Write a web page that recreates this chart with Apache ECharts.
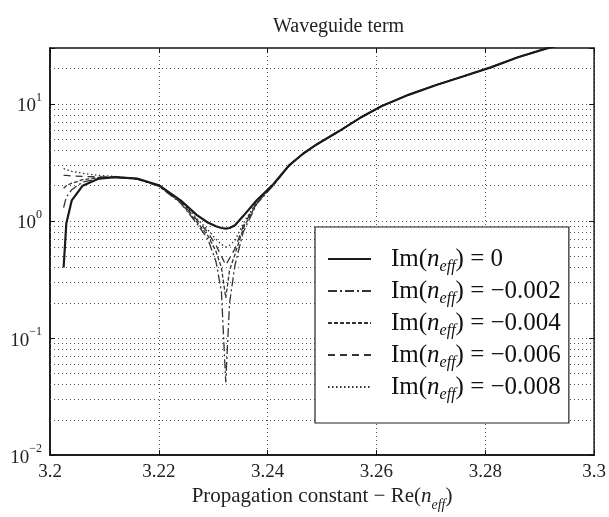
<!DOCTYPE html>
<html>
<head>
<meta charset="utf-8">
<script src="https://cdn.jsdelivr.net/npm/echarts@6/dist/echarts.min.js"></script>
<style>html,body{margin:0;padding:0;background:#fff;}#c{width:609px;height:517px;}</style>
</head>
<body>
<div id="c"></div>
<script>
// ---- data ----
const xValues = [3.2025, 3.203, 3.204, 3.206, 3.209, 3.212, 3.216, 3.220, 3.224, 3.227, 3.229, 3.2305, 3.2315, 3.2323, 3.233, 3.234, 3.2355, 3.238, 3.241, 3.244, 3.2465, 3.249, 3.253, 3.257, 3.261, 3.266, 3.271, 3.276, 3.281, 3.286, 3.291, 3.296, 3.3];
const im0    = [0.40, 0.95, 1.50, 2.00, 2.30, 2.37, 2.30, 2.02, 1.50, 1.12, 0.97, 0.90, 0.87, 0.86, 0.87, 0.92, 1.10, 1.50, 2.05, 3.0, 3.75, 4.5, 5.8, 7.6, 9.6, 12.0, 14.5, 17.2, 20.5, 25.0, 29.5, 34.0, 38.0];
const im002  = [1.30, 1.60, 1.85, 2.15, 2.30, 2.35, 2.28, 1.98, 1.42, 0.95, 0.70, 0.45, 0.25, 0.042, 0.20, 0.42, 0.80, 1.40, 2.00, 3.0, 3.75, 4.5, 5.8, 7.6, 9.6, 12.0, 14.5, 17.2, 20.5, 25.0, 29.5, 34.0, 38.0];
const im004  = [1.90, 2.00, 2.10, 2.25, 2.35, 2.37, 2.29, 1.99, 1.44, 0.98, 0.75, 0.55, 0.40, 0.22, 0.38, 0.52, 0.86, 1.42, 2.02, 3.0, 3.75, 4.5, 5.8, 7.6, 9.6, 12.0, 14.5, 17.2, 20.5, 25.0, 29.5, 34.0, 38.0];
const im006  = [2.45, 2.45, 2.42, 2.40, 2.38, 2.37, 2.29, 2.00, 1.46, 1.02, 0.80, 0.62, 0.50, 0.42, 0.48, 0.58, 0.90, 1.44, 2.03, 3.0, 3.75, 4.5, 5.8, 7.6, 9.6, 12.0, 14.5, 17.2, 20.5, 25.0, 29.5, 34.0, 38.0];
const im008  = [2.80, 2.75, 2.65, 2.55, 2.45, 2.40, 2.30, 2.01, 1.48, 1.05, 0.84, 0.70, 0.63, 0.60, 0.62, 0.68, 0.95, 1.46, 2.04, 3.0, 3.75, 4.5, 5.8, 7.6, 9.6, 12.0, 14.5, 17.2, 20.5, 25.0, 29.5, 34.0, 38.0];
const imLabels = ['0', '\u22120.002', '\u22120.004', '\u22120.006', '\u22120.008'];
const xTickLabels = ['3.2', '3.22', '3.24', '3.26', '3.28', '3.3'];
const yMinorGrid = [0.02,0.03,0.04,0.05,0.06,0.07,0.08,0.09, 0.2,0.3,0.4,0.5,0.6,0.7,0.8,0.9, 2,3,4,5,6,7,8,9, 20];

const FONT = 'Liberation Serif';
const seriesValues = [im0, im002, im004, im006, im008];
const names = imLabels.map(v => 'Im(neff) = ' + v);
const styles = [
  {type: 'solid', width: 2.2, color: '#1a1a1a'},
  {type: [9, 3, 2, 3], width: 1.3, color: '#333'},
  {type: [4, 2], width: 1.3, color: '#333'},
  {type: [7, 5], width: 1.3, color: '#333'},
  {type: [1.5, 2.5], width: 1.3, color: '#333'}
];
const gridDot = {type: [1, 3], color: '#555', width: 1};

const series = seriesValues.map((vals, i) => ({
  name: names[i],
  type: 'line',
  data: xValues.map((x, k) => [x, vals[k]]),
  symbol: 'none',
  showSymbol: false,
  lineStyle: styles[i],
  itemStyle: {color: styles[i].color},
  z: 10 - i,
  animation: false
}));
series.push({
  name: 'minorGrid',
  type: 'line',
  data: [],
  silent: true,
  animation: false,
  markLine: {
    silent: true,
    symbol: 'none',
    label: {show: false},
    lineStyle: gridDot,
    animation: false,
    data: yMinorGrid.map(v => ({yAxis: v}))
  }
});

const LFS = 25;
const legendRich = {
  r: {fontFamily: FONT, fontSize: LFS, lineHeight: 24, verticalAlign: 'top', color: '#111'},
  i: {fontFamily: FONT, fontSize: LFS, lineHeight: 24, verticalAlign: 'top', fontStyle: 'italic', color: '#111'},
  s: {fontFamily: FONT, fontSize: 16, lineHeight: 15, verticalAlign: 'bottom', fontStyle: 'italic', color: '#111', padding: [0, 0, -4, 0]}
};

const chart = echarts.init(document.getElementById('c'), null, {renderer: 'canvas'});
chart.setOption({
  backgroundColor: '#fff',
  animation: false,
  title: {
    text: 'Waveguide term',
    left: 268, top: 12,
    textStyle: {fontFamily: FONT, fontSize: 20, fontWeight: 'normal', color: '#222'}
  },
  grid: {left: 50, right: 11, top: 48, bottom: 43, show: true, borderColor: '#111', borderWidth: 1.5, backgroundColor: 'transparent'},
  legend: {
    data: names,
    orient: 'vertical',
    left: 315, top: 227,
    padding: [20, 8, 20, 12],
    itemGap: 4,
    itemWidth: 43, itemHeight: 14,
    backgroundColor: '#fff',
    borderColor: '#222', borderWidth: 1.2, borderRadius: 0,
    z: 20,
    selectedMode: false,
    itemStyle: {opacity: 0, borderWidth: 0},
    textStyle: {padding: [0, 0, 0, 15], rich: legendRich, fontFamily: FONT, fontSize: LFS, lineHeight: 24},
    formatter: name => {
      const v = name.split(' = ')[1];
      return '{r|Im(}{i|n}{s|eff}{r|) = ' + v + '}';
    }
  },
  xAxis: [{
    type: 'value', min: 3.2, max: 3.3, interval: 0.02,
    name: '{r|Propagation constant \u2212 Re(}{i|n}{s|eff}{r|)}',
    nameLocation: 'middle', nameGap: 20,
    nameTextStyle: {
      fontFamily: FONT, fontSize: 21, color: '#222',
      rich: {
        r: {fontFamily: FONT, fontSize: 21, lineHeight: 22, verticalAlign: 'top', color: '#222'},
        i: {fontFamily: FONT, fontSize: 21, lineHeight: 22, verticalAlign: 'top', fontStyle: 'italic', color: '#222'},
        s: {fontFamily: FONT, fontSize: 14, lineHeight: 14, verticalAlign: 'bottom', fontStyle: 'italic', color: '#222', padding: [0, 0, -4, 0]}
      }
    },
    axisLine: {show: true, onZero: false, lineStyle: {color: '#111', width: 1.5}},
    axisTick: {show: true, inside: true, length: 5, lineStyle: {color: '#111'}},
    axisLabel: {
      margin: 7, fontFamily: FONT, fontSize: 19, color: '#222',
      formatter: v => { const i = Math.round((v - 3.2) / 0.02); return xTickLabels[i] !== undefined ? xTickLabels[i] : ''; }
    },
    splitLine: {show: true, lineStyle: gridDot}
  }, {
    type: 'value', min: 3.2, max: 3.3, interval: 0.02, position: 'top',
    axisLine: {show: false},
    axisTick: {show: true, inside: true, length: 5, lineStyle: {color: '#111'}},
    axisLabel: {show: false},
    splitLine: {show: false}
  }],
  yAxis: [{
    type: 'log', logBase: 10, min: 0.01, max: 30,
    axisLine: {show: true, lineStyle: {color: '#111', width: 1.5}},
    axisTick: {show: true, inside: true, length: 5, lineStyle: {color: '#111'}},
    axisLabel: {
      margin: 8,
      formatter: v => {
        const l = Math.log10(v), e = Math.round(l);
        if (Math.abs(l - e) > 1e-6) return '';
        return '{b|10}{s|' + (e < 0 ? '\u2212' + (-e) : e) + '}';
      },
      rich: {
        b: {fontFamily: FONT, fontSize: 19, lineHeight: 24, verticalAlign: 'bottom', color: '#222'},
        s: {fontFamily: FONT, fontSize: 12, lineHeight: 12, verticalAlign: 'top', color: '#222'}
      }
    },
    splitLine: {show: true, lineStyle: gridDot}
  }, {
    type: 'log', logBase: 10, min: 0.01, max: 30, position: 'right',
    axisLine: {show: false},
    axisTick: {show: true, inside: true, length: 5, lineStyle: {color: '#111'}},
    axisLabel: {show: false},
    splitLine: {show: false}
  }],
  series: series
});
</script>
</body>
</html>
